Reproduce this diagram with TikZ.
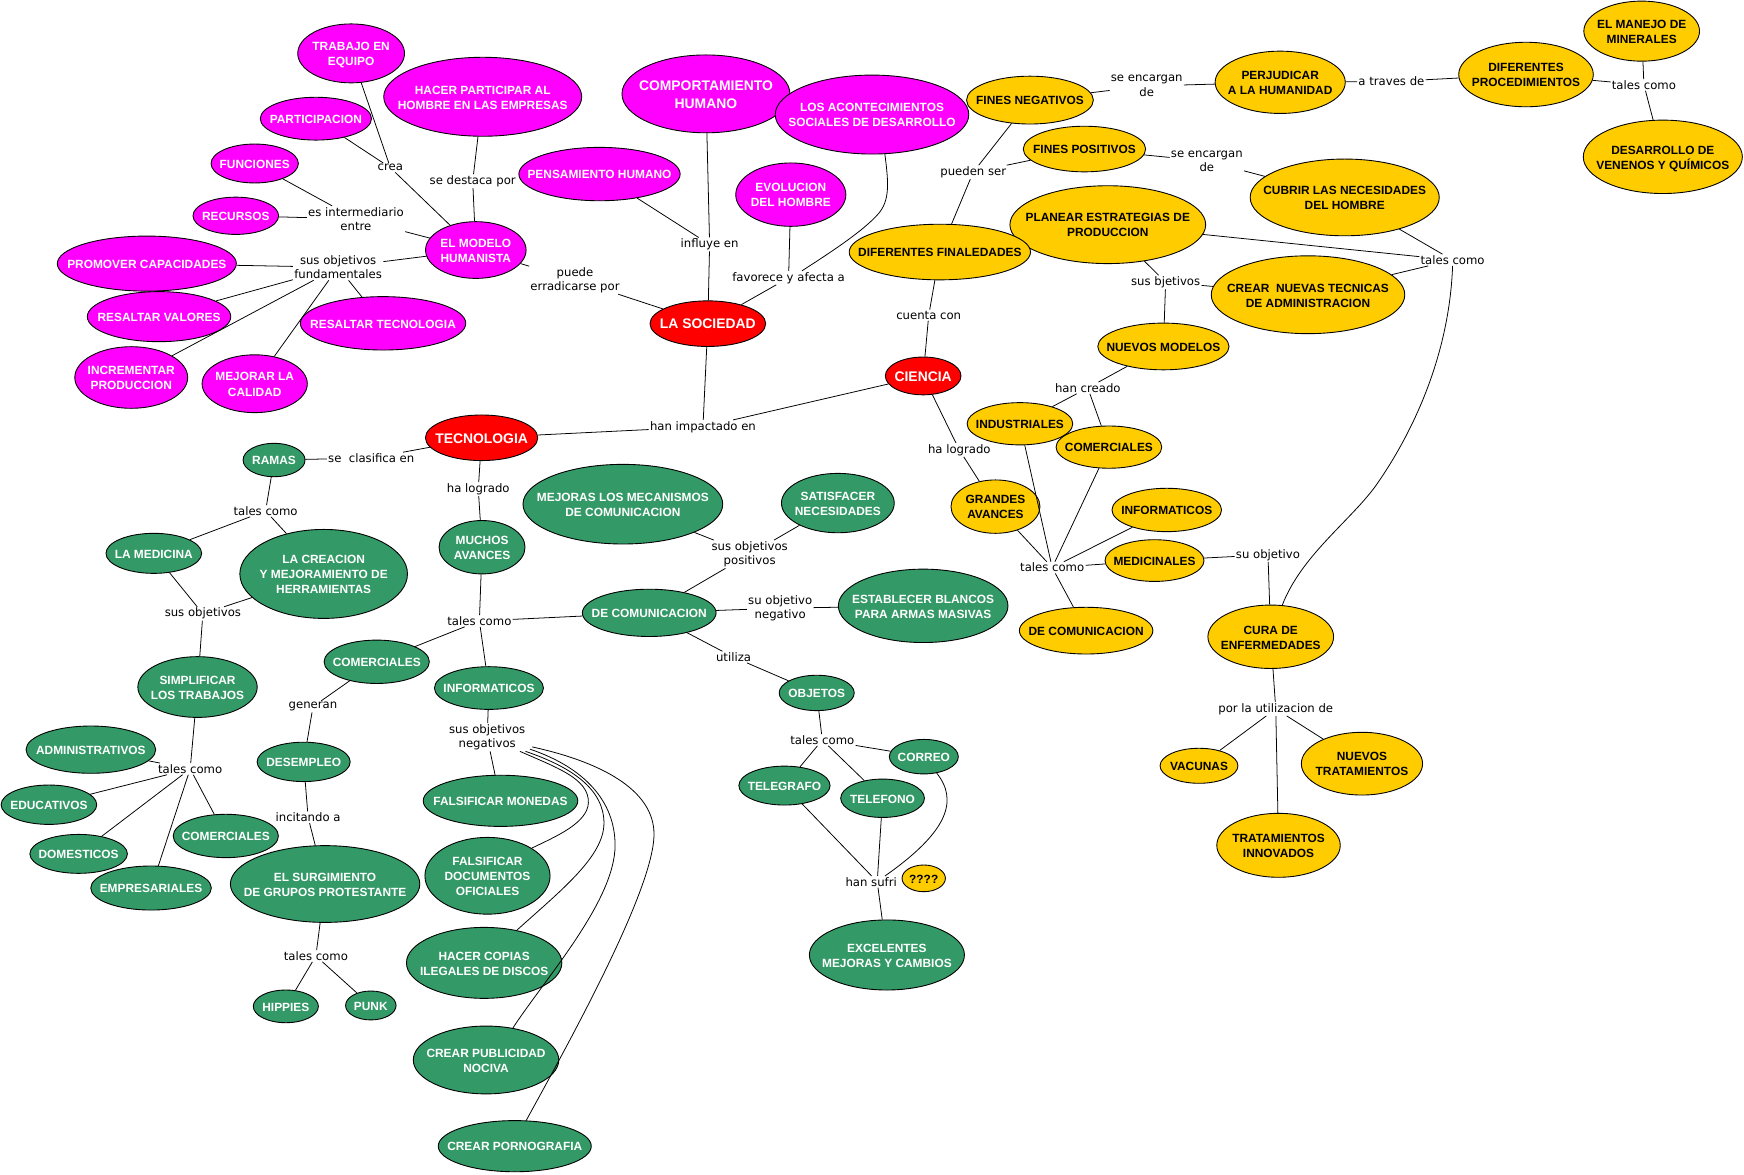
\documentclass[tikz,border=0pt]{standalone}
\usepackage{fontspec}
\setmainfont{Liberation Sans}
\newfontfamily\labfam{DejaVu Sans}
\usetikzlibrary{shapes.geometric}
\definecolor{cmMag}{HTML}{FF00FF}
\definecolor{cmRed}{HTML}{FF0000}
\definecolor{cmGreen}{HTML}{339966}
\definecolor{cmYel}{HTML}{FFCC00}
\newcommand{\nfont}{\fontsize{10.7pt}{13.5pt}\selectfont\bfseries}
\newcommand{\bigfont}{\fontsize{12.5pt}{15.9pt}\selectfont\bfseries}
\newcommand{\lfont}{\labfam\fontsize{10.5pt}{12.9pt}\selectfont}
\newcommand{\nt}[1]{\makebox[0pt]{\raisebox{-1.6pt}[\height][\depth]{\begin{tabular}{@{}c@{}}#1\end{tabular}}}}
\newcommand{\cmnode}[7]{\node[#1, minimum width=#5pt, minimum height=#6pt] (#2) at (#3,#4) {\nt{#7}};}
\tikzset{
  cbase/.style={ellipse, draw=black, line width=0.8pt, inner sep=0pt, font=\nfont},
  mag/.style={cbase, fill=cmMag, text=white},
  magbig/.style={mag, font=\bigfont},
  rd/.style={cbase, fill=cmRed, text=white, font=\bigfont},
  grn/.style={cbase, fill=cmGreen, text=white},
  yel/.style={cbase, fill=cmYel, text=black},
  lab/.style={inner sep=1pt, font=\lfont, align=center, text=black, yshift=-0.8pt},
  con/.style={draw=black, line width=0.7pt},
}
\begin{document}
\begin{tikzpicture}[x=1pt, y=-1pt]
\fill[white] (0,0) rectangle (1568,1056);
\useasboundingbox (0,0) rectangle (1568,1056);

% ---------- magenta ----------
\cmnode{mag}{trabajo}{315.7}{48}{96}{53}{TRABAJO EN\\EQUIPO}
\cmnode{mag}{hacer}{434}{87}{178}{71}{HACER PARTICIPAR AL\\HOMBRE EN LAS EMPRESAS}
\cmnode{mag}{partic}{284}{106.7}{100}{38.5}{PARTICIPACION}
\cmnode{mag}{funciones}{229}{147}{78.5}{35}{FUNCIONES}
\cmnode{mag}{recursos}{212}{194}{77}{33.5}{RECURSOS}
\cmnode{mag}{promover}{132}{237}{161}{49.5}{PROMOVER CAPACIDADES}
\cmnode{mag}{valores}{143}{284.7}{129}{45}{RESALTAR VALORES}
\cmnode{mag}{incrementar}{118}{339.4}{101.5}{55.4}{INCREMENTAR\\PRODUCCION}
\cmnode{mag}{mejorar}{229}{345}{94.6}{52}{MEJORAR LA\\CALIDAD}
\cmnode{mag}{restec}{344.4}{290.7}{148.7}{48}{RESALTAR TECNOLOGIA}
\cmnode{mag}{modelo}{427.8}{224.8}{90.4}{51}{EL MODELO\\HUMANISTA}
\cmnode{mag}{pensamiento}{539}{156.5}{145}{48}{PENSAMIENTO HUMANO}
\cmnode{magbig}{comport}{634.7}{84.4}{151}{70}{COMPORTAMIENTO\\HUMANO}
\cmnode{mag}{aconte}{784}{103}{174}{71}{LOS ACONTECIMIENTOS\\SOCIALES DE DESARROLLO}
\cmnode{mag}{evolucion}{711}{175}{99}{57}{EVOLUCION\\DEL HOMBRE}

% ---------- red ----------
\cmnode{rd}{sociedad}{636.4}{291}{104}{41}{LA SOCIEDAD}
\cmnode{rd}{tecnologia}{433}{393.6}{101}{41}{TECNOLOGIA}
\cmnode{rd}{ciencia}{830}{338}{68}{34}{CIENCIA}

% ---------- yellow ----------
\cmnode{yel}{finesneg}{926}{90}{114}{43}{FINES NEGATIVOS}
\cmnode{yel}{finespos}{975}{134}{110}{41}{FINES POSITIVOS}
\cmnode{yel}{perjudicar}{1151}{74}{117}{56}{PERJUDICAR\\A LA HUMANIDAD}
\cmnode{yel}{procedim}{1372}{67}{121}{58}{DIFERENTES\\PROCEDIMIENTOS}
\cmnode{yel}{manejo}{1476}{28}{104}{54}{EL MANEJO DE\\MINERALES}
\cmnode{yel}{venenos}{1495}{141}{143}{66}{DESARROLLO DE\\VENENOS Y QUÍMICOS}
\cmnode{yel}{cubrir}{1209}{177.5}{170}{69}{CUBRIR LAS NECESIDADES\\DEL HOMBRE}
\cmnode{yel}{planear}{996}{202}{176}{70}{PLANEAR ESTRATEGIAS DE\\PRODUCCION}
\cmnode{yel}{finaled}{845}{226.6}{163}{50}{DIFERENTES FINALEDADES}
\cmnode{yel}{crearnuevas}{1176}{265}{174}{70}{CREAR\ \ NUEVAS TECNICAS\\DE ADMINISTRACION}
\cmnode{yel}{nuevosmod}{1046}{311.5}{118}{42}{NUEVOS MODELOS}
\cmnode{yel}{industriales}{917}{381}{95}{38}{INDUSTRIALES}
\cmnode{yel}{comercialesy}{997}{402}{95}{38}{COMERCIALES}
\cmnode{yel}{grandes}{895}{455.5}{80}{48}{GRANDES\\AVANCES}
\cmnode{yel}{informy}{1049}{458.5}{98.5}{39}{INFORMATICOS}
\cmnode{yel}{medicinales}{1038}{504}{89}{37.5}{MEDICINALES}
\cmnode{yel}{comuny}{976.5}{567}{120}{42}{DE COMUNICACION}
\cmnode{yel}{cura}{1142.5}{572.5}{113}{57}{CURA DE\\ENFERMEDADES}
\cmnode{yel}{vacunas}{1078}{688.5}{70}{31.5}{VACUNAS}
\cmnode{yel}{nuevostrat}{1224.5}{686.6}{109}{56.4}{NUEVOS\\TRATAMIENTOS}
\cmnode{yel}{tratinnov}{1149.5}{760}{111}{57.5}{TRATAMIENTOS\\INNOVADOS}

% ---------- green ----------
\cmnode{grn}{ramas}{246.4}{413.6}{55.7}{30}{RAMAS}
\cmnode{grn}{medicina}{138.3}{497.5}{86}{36}{LA MEDICINA}
\cmnode{grn}{creacion}{291}{516}{150.7}{80}{LA CREACION\\Y MEJORAMIENTO DE\\HERRAMIENTAS}
\cmnode{grn}{simplificar}{177.6}{617.7}{107.3}{54.6}{SIMPLIFICAR\\LOS TRABAJOS}
\cmnode{grn}{administ}{81.7}{674}{116.6}{42.5}{ADMINISTRATIVOS}
\cmnode{grn}{educativos}{44}{723.5}{86}{35.4}{EDUCATIVOS}
\cmnode{grn}{domesticos}{70.7}{767.7}{87.7}{35}{DOMESTICOS}
\cmnode{grn}{comercialesb}{203}{751.6}{94.6}{39}{COMERCIALES}
\cmnode{grn}{empresariales}{135.8}{798.4}{108.4}{39.6}{EMPRESARIALES}
\cmnode{grn}{muchos}{433.4}{492}{77.3}{48}{MUCHOS\\AVANCES}
\cmnode{grn}{mejoras}{560}{453.3}{179.6}{71.6}{MEJORAS LOS MECANISMOS\\DE COMUNICACION}
\cmnode{grn}{satisfacer}{753.3}{452.3}{101.4}{53.4}{SATISFACER\\NECESIDADES}
\cmnode{grn}{comung}{583.7}{551}{120.2}{42.5}{DE COMUNICACION}
\cmnode{grn}{establecer}{830}{544.7}{152.5}{66}{ESTABLECER BLANCOS\\PARA ARMAS MASIVAS}
\cmnode{grn}{comercialesm}{338.7}{595}{94.6}{39}{COMERCIALES}
\cmnode{grn}{informg}{439.6}{618.6}{98}{38.4}{INFORMATICOS}
\cmnode{grn}{desempleo}{273}{685}{83.7}{35.4}{DESEMPLEO}
\cmnode{grn}{surgimiento}{292.3}{794.8}{170.3}{69}{EL SURGIMIENTO\\DE GRUPOS PROTESTANTE}
\cmnode{grn}{hippies}{257}{904.8}{58.5}{29.4}{HIPPIES}
\cmnode{grn}{punk}{333.4}{904}{45.4}{26}{PUNK}
\cmnode{grn}{monedas}{450}{720}{139}{46}{FALSIFICAR MONEDAS}
\cmnode{grn}{documentos}{438.3}{787.4}{112.5}{69}{FALSIFICAR\\DOCUMENTOS\\OFICIALES}
\cmnode{grn}{copias}{435.3}{865.7}{139.7}{63.8}{HACER COPIAS\\ILEGALES DE DISCOS}
\cmnode{grn}{publicidad}{437}{953}{130.8}{61}{CREAR PUBLICIDAD\\NOCIVA}
\cmnode{grn}{porno}{462.8}{1030.5}{137.6}{46}{CREAR PORNOGRAFIA}
\cmnode{grn}{objetos}{734.3}{623}{67.5}{31.8}{OBJETOS}
\cmnode{grn}{correo}{830.6}{680.3}{62}{31}{CORREO}
\cmnode{grn}{telegrafo}{705.3}{706.3}{82}{35}{TELEGRAFO}
\cmnode{grn}{telefono}{793.5}{717.7}{75.3}{34.5}{TELEFONO}
\cmnode{grn}{excelentes}{797.4}{858.6}{139.4}{63}{EXCELENTES\\MEJORAS Y CAMBIOS}

% ---------- linking phrases ----------
\node[lab] (l_crea) at (351,150) {crea};
\node[lab] (l_destaca) at (425,162) {se destaca por};
\node[lab] (l_interm) at (320,196) {es intermediario\\entre};
\node[lab] (l_objfund) at (304,239.5) {sus objetivos\\fundamentales};
\node[lab] (l_erradic) at (517,251) {puede\\erradicarse por};
\node[lab] (l_influye) at (638,219) {influye en};
\node[lab] (l_favorece) at (709,249) {favorece y afecta a};
\node[lab] (l_pueden) at (875,154) {pueden ser};
\node[lab] (l_encarg1) at (1031,76.5) {se encargan\\de};
\node[lab] (l_traves) at (1251,72.5) {a traves de};
\node[lab] (l_tales1) at (1478,75.5) {tales como};
\node[lab] (l_encarg2) at (1085,144) {se encargan\\de};
\node[lab] (l_tales2) at (1306,233) {tales como};
\node[lab] (l_sbjet) at (1048,253) {sus bjetivos};
\node[lab] (l_cuenta) at (835,282.6) {cuenta con};
\node[lab] (l_creado) at (978,348) {han creado};
\node[lab] (l_logrado1) at (862.5,403.7) {ha logrado};
\node[lab] (l_tales3) at (946,509.5) {tales como};
\node[lab] (l_suobj) at (1140,498) {su objetivo};
\node[lab] (l_utiliz) at (1147,636.6) {por la utilizacion de};
\node[lab] (l_impact) at (632,383) {han impactado en};
\node[lab] (l_clasif) at (333.8,411) {se\ \ clasifica en};
\node[lab] (l_logrado2) at (430,439) {ha logrado};
\node[lab] (l_tales4) at (238.8,458.6) {tales como};
\node[lab] (l_sobj) at (182.4,551) {sus objetivos};
\node[lab] (l_tales5) at (431,557.5) {tales como};
\node[lab] (l_objpos) at (674,497.5) {sus objetivos\\positivos};
\node[lab] (l_objneg1) at (701.5,546) {su objetivo\\negativo};
\node[lab] (l_utiliza) at (659.5,590) {utiliza};
\node[lab] (l_generan) at (281.4,634.5) {generan};
\node[lab] (l_tales6) at (171,690.5) {tales como};
\node[lab] (l_incitando) at (277,734) {incitando a};
\node[lab] (l_objneg2) at (438,662) {sus objetivos\\negativos};
\node[lab] (l_tales7) at (739.3,664.5) {tales como};
\node[lab, anchor=west] (l_sufri) at (759,792) {\makebox[57pt][l]{han sufri}};
\node[lab] (l_tales8) at (284,858.7) {tales como};

% ---------- connectors: magenta part ----------
\draw[con] (trabajo) -- (l_crea);
\draw[con] (partic) -- (l_crea);
\draw[con] (l_crea) -- (modelo);
\draw[con] (hacer) -- (l_destaca);
\draw[con] (l_destaca) -- (modelo);
\draw[con] (funciones) -- (l_interm);
\draw[con] (recursos) -- (l_interm);
\draw[con] (l_interm) -- (modelo);
\draw[con] (modelo) -- (l_objfund);
\draw[con] (l_objfund) -- (promover);
\draw[con] (l_objfund) -- (valores);
\draw[con] (l_objfund) -- (incrementar);
\draw[con] (l_objfund) -- (mejorar);
\draw[con] (l_objfund) -- (restec);
\draw[con] (modelo) -- (l_erradic);
\draw[con] (l_erradic) -- (sociedad);
\draw[con] (pensamiento) -- (l_influye);
\draw[con] (comport) -- (l_influye);
\draw[con] (l_influye) -- (sociedad);
\draw[con] (evolucion) -- (l_favorece);
\draw[con] (aconte.-72) .. controls (799,165) and (800,180) .. (789.9,192)
                        .. controls (776,208) and (745,228) .. ([xshift=12pt]l_favorece.north);
\draw[con] (l_favorece) -- (sociedad);
\draw[con] (sociedad) -- (l_impact);
\draw[con] (l_impact) -- (tecnologia);
\draw[con] (l_impact) -- (ciencia);

% ---------- connectors: yellow part ----------
\draw[con] (finaled) -- (l_pueden);
\draw[con] (l_pueden) -- (finesneg);
\draw[con] (l_pueden) -- (finespos);
\draw[con] (finesneg) -- (l_encarg1);
\draw[con] (l_encarg1) -- (perjudicar);
\draw[con] (perjudicar) -- (l_traves);
\draw[con] (l_traves) -- (procedim);
\draw[con] (procedim) -- (l_tales1);
\draw[con] (l_tales1) -- (manejo);
\draw[con] (l_tales1) -- (venenos);
\draw[con] (finespos) -- (l_encarg2);
\draw[con] (l_encarg2) -- (cubrir);
\draw[con] (cubrir) -- (l_tales2);
\draw[con] (planear) -- (l_tales2);
\draw[con] (l_tales2) -- (crearnuevas);
\draw[con] (l_tales2.south) .. controls (1303,320) and (1270,390) .. (1236,438)
                            .. controls (1212,470) and (1170,500) .. (cura.70);
\draw[con] (finaled) -- (l_cuenta);
\draw[con] (l_cuenta) -- (ciencia);
\draw[con] (planear) -- (l_sbjet);
\draw[con] (l_sbjet) -- (nuevosmod);
\draw[con] (l_sbjet) -- (crearnuevas);
\draw[con] (nuevosmod) -- (l_creado);
\draw[con] (l_creado) -- (industriales);
\draw[con] (l_creado) -- (comercialesy);
\draw[con] (ciencia) -- (l_logrado1);
\draw[con] (l_logrado1) -- (grandes);
\draw[con] (grandes) -- (l_tales3);
\draw[con] (industriales) -- (l_tales3);
\draw[con] (comercialesy) -- (l_tales3);
\draw[con] (informy) -- (l_tales3);
\draw[con] (medicinales) -- (l_tales3);
\draw[con] (l_tales3) -- (comuny);
\draw[con] (medicinales) -- (l_suobj);
\draw[con] (l_suobj) -- (cura);
\draw[con] (cura) -- (l_utiliz);
\draw[con] (l_utiliz) -- (vacunas);
\draw[con] (l_utiliz) -- (nuevostrat);
\draw[con] (l_utiliz) -- (tratinnov);

% ---------- connectors: green part ----------
\draw[con] (tecnologia) -- (l_clasif);
\draw[con] (l_clasif) -- (ramas);
\draw[con] (ramas) -- (l_tales4);
\draw[con] (l_tales4) -- (medicina);
\draw[con] (l_tales4) -- (creacion);
\draw[con] (medicina) -- (l_sobj);
\draw[con] (creacion) -- (l_sobj);
\draw[con] (l_sobj) -- (simplificar);
\draw[con] (simplificar) -- (l_tales6);
\draw[con] (l_tales6) -- (administ);
\draw[con] (l_tales6) -- (educativos);
\draw[con] (l_tales6) -- (domesticos);
\draw[con] (l_tales6) -- (empresariales);
\draw[con] (l_tales6) -- (comercialesb);
\draw[con] (tecnologia) -- (l_logrado2);
\draw[con] (l_logrado2) -- (muchos);
\draw[con] (muchos) -- (l_tales5);
\draw[con] (l_tales5) -- (comercialesm);
\draw[con] (l_tales5) -- (informg);
\draw[con] (l_tales5) -- (comung);
\draw[con] (comercialesm) -- (l_generan);
\draw[con] (l_generan) -- (desempleo);
\draw[con] (desempleo) -- (l_incitando);
\draw[con] (l_incitando) -- (surgimiento);
\draw[con] (surgimiento) -- (l_tales8);
\draw[con] (l_tales8) -- (hippies);
\draw[con] (l_tales8) -- (punk);
\draw[con] (informg) -- (l_objneg2);
\draw[con] (l_objneg2) -- (monedas);
\draw[con] ([xshift=-6pt]l_objneg2.south east) .. controls (500,690) and (530,700) .. (529,722)
           .. controls (528,740) and (500,752) .. (documentos.32);
\draw[con] ([xshift=-1pt]l_objneg2.south east) .. controls (515,690) and (543,710) .. (543,740)
           .. controls (543,770) and (505,800) .. (copias.45);
\draw[con] ([xshift=3pt,yshift=2pt]l_objneg2.south east) .. controls (525,690) and (553,720) .. (553,760)
           .. controls (553,810) and (490,880) .. (publicidad.50);
\draw[con] ([xshift=5pt,yshift=4pt]l_objneg2.south east) .. controls (540,685) and (588,710) .. (588,750)
           .. controls (588,800) and (510,940) .. (porno.66);
\draw[con] (comung) -- (l_objpos);
\draw[con] (l_objpos) -- (mejoras);
\draw[con] (l_objpos) -- (satisfacer);
\draw[con] (comung) -- (l_objneg1);
\draw[con] (l_objneg1) -- (establecer);
\draw[con] (comung) -- (l_utiliza);
\draw[con] (l_utiliza) -- (objetos);
\draw[con] (objetos) -- (l_tales7);
\draw[con] (l_tales7) -- (correo);
\draw[con] (l_tales7) -- (telegrafo);
\draw[con] (l_tales7) -- (telefono);
\draw[con] (telegrafo) -- (l_sufri);
\draw[con] (telefono) -- (l_sufri);
\draw[con] (correo.-52) .. controls (862,720) and (852,748) .. ([xshift=7pt]l_sufri.north);
\draw[con] (l_sufri) -- (excelentes);

\cmnode{yel}{qmarks}{830.5}{789.7}{39}{24}{????}
\end{tikzpicture}
\end{document}
